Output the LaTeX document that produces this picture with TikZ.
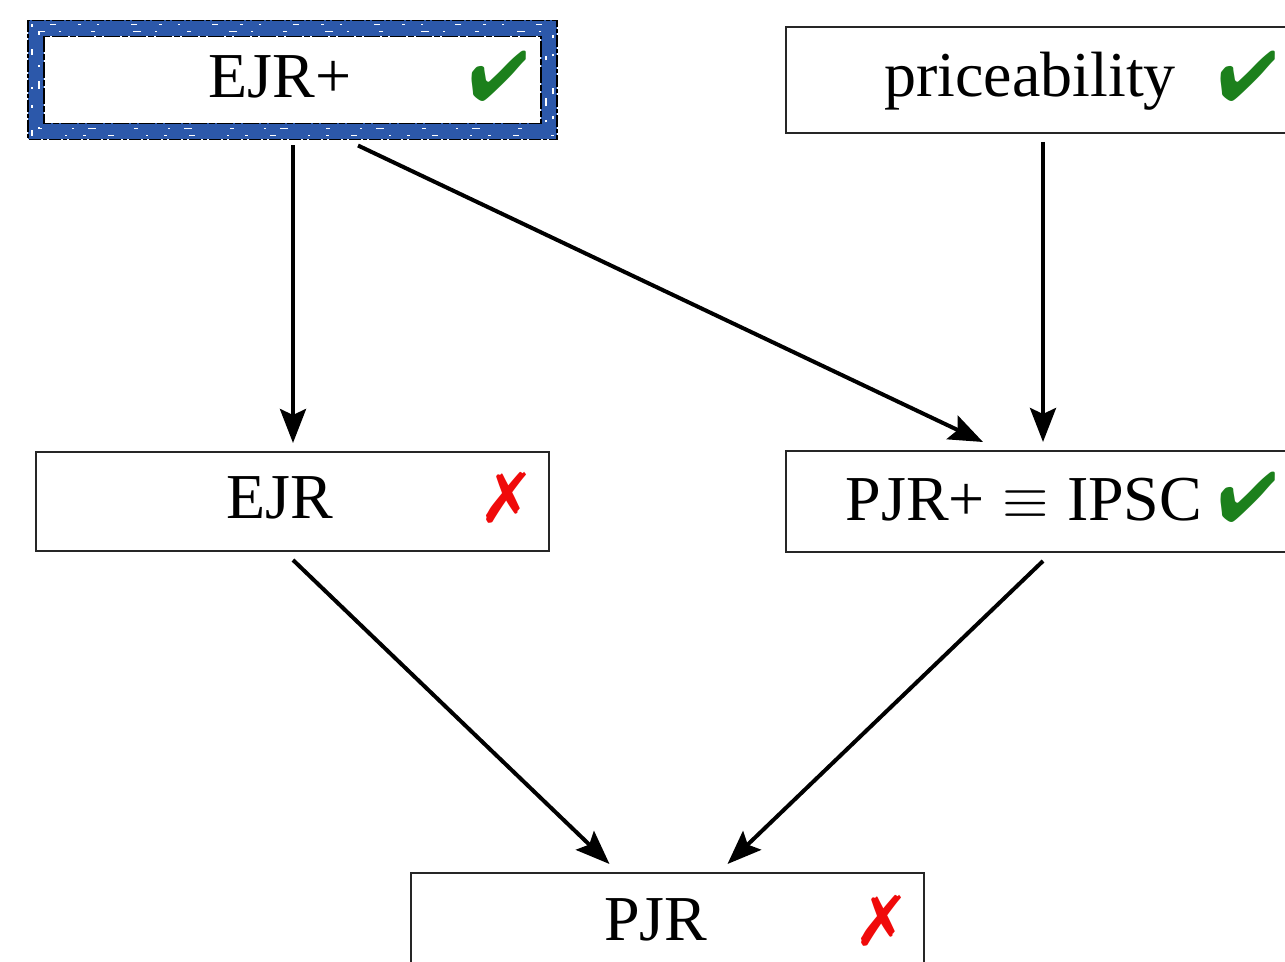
\documentclass[tikz,border=0pt]{standalone}
\usepackage{fontspec}
\setmainfont{Liberation Serif}
\usepackage{pifont}
\usepackage{graphicx}
\usetikzlibrary{arrows.meta,calc}
\definecolor{frameblue}{RGB}{44,88,170}
\definecolor{okgreen}{RGB}{28,128,28}
\definecolor{badred}{RGB}{240,10,10}
\tikzset{
  box/.style={draw=black!85, line width=1pt, inner sep=0pt, outer sep=0pt, fill=white},
  lab/.style={inner sep=0pt, outer sep=0pt, anchor=base, font=\fontsize{32}{38}\selectfont},
  okmark/.style={inner sep=0pt, text=okgreen, font=\fontsize{35}{40}\selectfont},
  badmark/.style={inner sep=0pt, text=badred, font=\fontsize{35}{40}\selectfont},
  conn/.style={line width=2pt, -{Stealth[length=17pt,width=13pt,inset=3pt]}},
}
\begin{document}
\begin{tikzpicture}[x=0.5pt,y=-0.5pt]
\useasboundingbox (0,0) rectangle (1285,962);
\clip (0,0) rectangle (1285,962);
% EJR+ with blue textured frame
\node[draw=frameblue, line width=8pt, inner sep=0pt, outer sep=0pt, minimum width=256.5pt, minimum height=51.5pt] (ejrp) at (292.5,80) {};
\draw[black, line width=0.6pt, dash pattern=on 6pt off 1pt on 2pt off 1pt] ([shift={(-8,-8)}]ejrp.north west) rectangle ([shift={(8,8)}]ejrp.south east);
\draw[black, line width=0.8pt, dash pattern=on 8pt off 1pt on 3pt off 1pt] ([shift={(8,8)}]ejrp.north west) rectangle ([shift={(-8,-8)}]ejrp.south east);
\draw[white, line width=0.9pt, dash pattern=on 1.5pt off 11pt on 3pt off 16pt on 1pt off 8pt] ([shift={(-4,-4)}]ejrp.north west) rectangle ([shift={(4,4)}]ejrp.south east);
\draw[white, line width=0.7pt, dash pattern=on 2pt off 15pt on 1pt off 7pt on 4pt off 19pt] ([shift={(3,3)}]ejrp.north west) rectangle ([shift={(-3,-3)}]ejrp.south east);
\node[lab] (ejrpT) at (280,98) {EJR+};
\node[okmark] (ejrpM) at (499,76) {\ding{52}};
% priceability
\node[box, minimum width=257pt, minimum height=53pt] (pric) at (1043,80) {};
\node[lab] (pricT) at (1030,97) {priceability};
\node[okmark] (pricM) at (1248,76) {\ding{52}};
% EJR
\node[box, minimum width=256.5pt, minimum height=49.5pt] (ejr) at (292.5,501.5) {};
\node[lab] (ejrT) at (280,518) {EJR};
\node[badmark] (ejrM) at (506,498) {\ding{55}};
% PJR+ = IPSC
\node[box, minimum width=257pt, minimum height=50.5pt] (pjrp) at (1043,501.5) {};
\node[lab] (pjrpT) at (1024,520) {PJR+\;\raisebox{1pt}{\scalebox{1.2}{$\equiv$}}\;IPSC};
\node[okmark] (pjrpM) at (1248,497) {\ding{52}};
% PJR
\node[box, minimum width=256.5pt, minimum height=50pt] (pjr) at (667.5,923) {};
\node[lab] (pjrT) at (656,940) {PJR};
\node[badmark] (pjrM) at (881,921) {\ding{55}};
% connectors
\draw[conn] ($(ejrp.south)+(0.5,14)$) -- ($(ejr.north)+(0.5,-9)$);
\draw[conn] ($(ejrp.south)+(65.5,14)$) -- ($(pjrp.north)+(-60,-9)$);
\draw[conn] ($(pric.south)+(0,9)$) -- ($(pjrp.north)+(0,-9)$);
\draw[conn] ($(ejr.south)+(0.5,9)$) -- ($(pjr.north)+(-58,-9)$);
\draw[conn] ($(pjrp.south)+(0,9)$) -- ($(pjr.north)+(60,-9)$);
\end{tikzpicture}
\end{document}
